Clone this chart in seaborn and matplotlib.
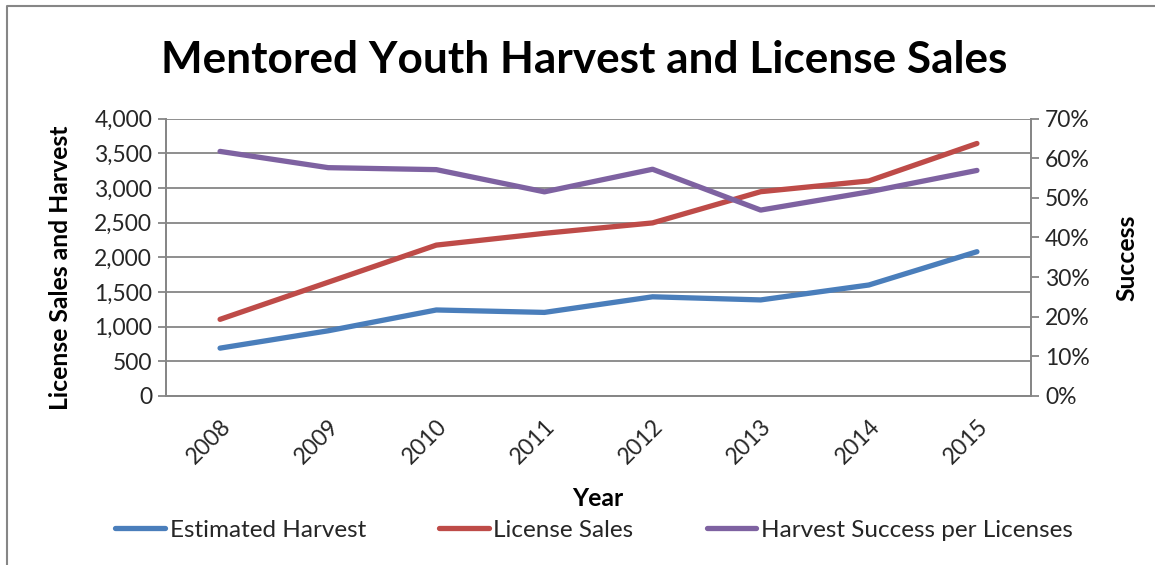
import matplotlib
matplotlib.use("Agg")
import matplotlib.pyplot as plt
from matplotlib.lines import Line2D
from matplotlib.ticker import FuncFormatter, PercentFormatter, FixedLocator
import pandas as pd
import seaborn as sns

# data
years = ["2008", "2009", "2010", "2011", "2012", "2013", "2014", "2015"]
harvest = [690, 940, 1240, 1205, 1430, 1385, 1600, 2080]
licenses = [1105, 1640, 2175, 2345, 2495, 2945, 3100, 3640]
success = [0.617, 0.576, 0.571, 0.515, 0.572, 0.469, 0.515, 0.569]

df = pd.DataFrame({"Year": years, "Estimated Harvest": harvest,
                   "License Sales": licenses,
                   "Harvest Success per Licenses": success})

sns.set_theme(style="white")
plt.rcParams["font.family"] = ["Lato", "DejaVu Sans"]

blue, red, purple = "#4A7EBB", "#BE4B48", "#7E62A1"
grey = "#868686"

fig = plt.figure(figsize=(11.55, 5.65), dpi=100)
ax = fig.add_axes([166 / 1155, 1 - 396 / 565, (1031 - 166) / 1155, (396 - 118.5) / 565])
ax2 = ax.twinx()

lw = 3.8
sns.lineplot(data=df, x="Year", y="Estimated Harvest", ax=ax, color=blue, lw=lw,
             solid_capstyle="round", zorder=3)
sns.lineplot(data=df, x="Year", y="License Sales", ax=ax, color=red, lw=lw,
             solid_capstyle="round", zorder=3)
sns.lineplot(data=df, x="Year", y="Harvest Success per Licenses", ax=ax2, color=purple,
             lw=lw, solid_capstyle="round", zorder=3)

# left axis
ax.set_xlim(-0.5, len(years) - 0.5)
ax.set_ylim(0, 4000)
ax.set_yticks(range(0, 4001, 500))
ax.yaxis.set_major_formatter(FuncFormatter(lambda v, p: f"{int(v):,}"))
ax.grid(axis="y", color=grey, lw=1.3)
ax.set_axisbelow(True)

# x axis: ticks on category borders, labels at centers
ax.xaxis.set_major_locator(FixedLocator([i - 0.5 for i in range(len(years) + 1)]))
ax.xaxis.set_minor_locator(FixedLocator(list(range(len(years)))))
ax.set_xticklabels([], minor=False)
ax.set_xticklabels(years, minor=True, rotation=45, ha="right", rotation_mode="anchor")
ax.tick_params(axis="x", which="major", length=6, width=1.3, color=grey, direction="out")
ax.tick_params(axis="x", which="minor", length=0, pad=14, labelsize=16.5)
ax.tick_params(axis="y", length=6, width=1.3, color=grey, direction="out",
               labelsize=16.5, pad=4, left=True)
ax.set_xlabel("")
ax.set_ylabel("")

# right axis
ax2.set_ylim(0, 0.7)
ax2.set_yticks([i / 10 for i in range(8)])
ax2.yaxis.set_major_formatter(PercentFormatter(1, decimals=0))
ax2.tick_params(axis="y", length=6, width=1.3, color=grey, direction="out",
                labelsize=16.5, pad=4, right=True)
ax2.set_ylabel("")
ax2.grid(False)

for a in (ax, ax2):
    a.spines["top"].set_visible(False)
    for s in ("left", "right", "bottom"):
        a.spines[s].set_color(grey)
        a.spines[s].set_linewidth(1.3)

# texts
fig.text(584 / 1155, 1 - 60 / 565, "Mentored Youth Harvest and License Sales",
         ha="center", va="center", fontsize=31.8, weight="bold", color="black")
fig.text(60 / 1155, 1 - 268 / 565, "License Sales and Harvest", rotation=90,
         ha="center", va="center", fontsize=17.8, weight="bold", color="black")
fig.text(1127 / 1155, 1 - 258 / 565, "Success", rotation=90,
         ha="center", va="center", fontsize=17.8, weight="bold", color="black")
fig.text(598 / 1155, 1 - 498 / 565, "Year", ha="center", va="center",
         fontsize=17.8, weight="bold", color="black")

handles = [Line2D([], [], color=c, lw=lw, solid_capstyle="round") for c in (blue, red, purple)]
fig.legend(handles, ["Estimated Harvest", "License Sales", "Harvest Success per Licenses"],
           loc="center", bbox_to_anchor=(594 / 1155, 1 - 530 / 565), ncol=3, frameon=False,
           fontsize=17.5, handlelength=2.05, handletextpad=0.2, columnspacing=3.0)

# chart border (left and top edges)
bx, by = 7 / 1155, 1 - 6 / 565
fig.add_artist(Line2D([bx, bx, 1], [0, by, by], transform=fig.transFigure,
                      color=grey, lw=1.5))

fig.savefig("out.png", dpi=100)
